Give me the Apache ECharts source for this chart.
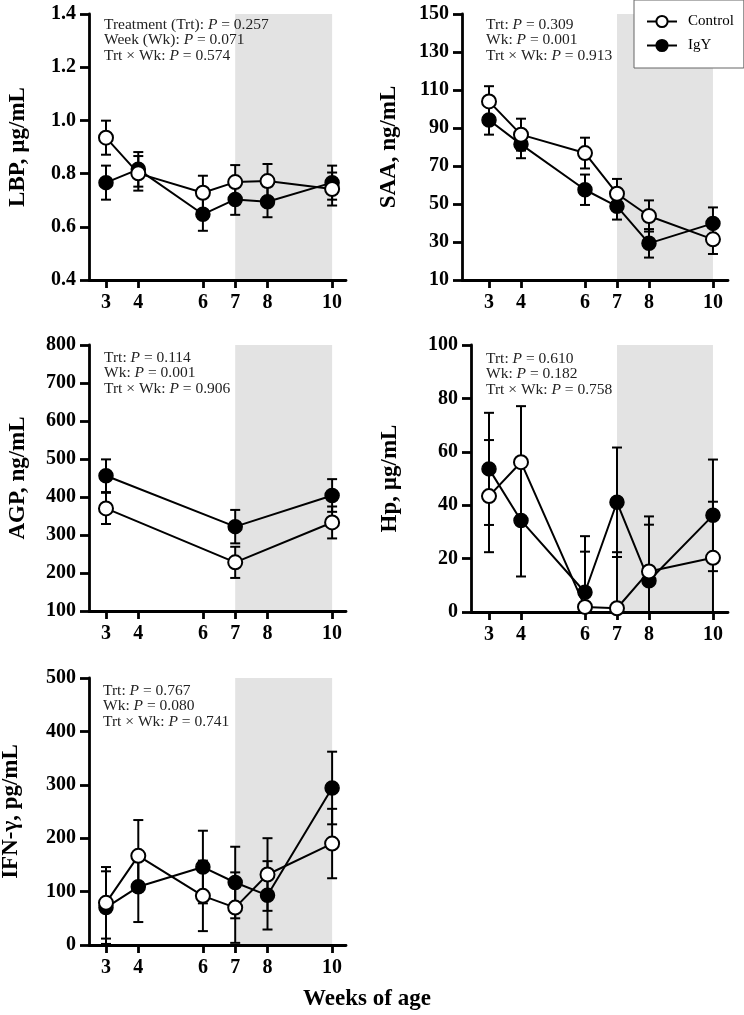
<!DOCTYPE html>
<html><head><meta charset="utf-8">
<script src="https://cdn.jsdelivr.net/npm/echarts@6/dist/echarts.min.js"></script>
<style>html,body{margin:0;padding:0;background:#fff}#c{width:744px;height:1015px}</style>
</head><body><div id="c"></div>
<script>
// ---- data ----
const weeks = [3, 4, 6, 7, 8, 10];
const agpWeeks = [3, 7, 10];
const tickWeeks = [3, 4, 6, 7, 8, 10];
const shadeFrom = 7, shadeTo = 10;

const lbpControl = [0.935, 0.801, 0.728, 0.768, 0.772, 0.742];
const lbpControlSE = [0.064, 0.065, 0.064, 0.064, 0.064, 0.062];
const lbpIgY = [0.766, 0.816, 0.647, 0.703, 0.694, 0.766];
const lbpIgYSE = [0.064, 0.065, 0.062, 0.058, 0.058, 0.064];

const saaControl = [104.0, 86.5, 76.8, 55.4, 43.7, 31.4];
const saaControlSE = [8.0, 8.4, 8.1, 7.8, 8.2, 7.7];
const saaIgY = [94.2, 81.4, 57.5, 48.8, 29.3, 39.8];
const saaIgYSE = [7.7, 7.3, 8.0, 7.0, 7.5, 8.4];

const agpControl = [370, 228, 333];
const agpControlSE = [41, 41, 42];
const agpIgY = [456, 322, 404];
const agpIgYSE = [43, 44, 43];

const hpControl = [43.4, 56.1, 1.9, 1.4, 15.2, 20.3];
const hpControlSE = [21.0, 21.0, 20.7, 21.0, 20.6, 21.0];
const hpIgY = [53.6, 34.3, 7.4, 41.1, 11.7, 36.2];
const hpIgYSE = [21.0, 21.0, 21.0, 20.5, 21.0, 20.9];

const ifnControl = [79, 167, 92, 70, 132, 190];
const ifnControlSE = [67, 67, 66, 66, 68, 65];
const ifnIgY = [70, 109, 146, 117, 93, 294];
const ifnIgYSE = [68, 66, 68, 67, 64, 68];

const panelNames = ['LBP, µg/mL', 'SAA, ng/mL', 'AGP, ng/mL', 'Hp, µg/mL', 'IFN-γ, pg/mL'];
const yMins = [0.4, 10, 100, 0, 0];
const yMaxs = [1.4, 150, 800, 100, 500];
const yIntervals = [0.2, 20, 100, 20, 100];
const annotations = [
  [['Treatment (Trt)', '0.257'], ['Week (Wk)', '0.071'], ['Trt × Wk', '0.574']],
  [['Trt', '0.309'], ['Wk', '0.001'], ['Trt × Wk', '0.913']],
  [['Trt', '0.114'], ['Wk', '0.001'], ['Trt × Wk', '0.906']],
  [['Trt', '0.610'], ['Wk', '0.182'], ['Trt × Wk', '0.758']],
  [['Trt', '0.767'], ['Wk', '0.080'], ['Trt × Wk', '0.741']]
];
const xLabel = 'Weeks of age';
const seriesNames = ['Control', 'IgY'];

// ---- layout ----
const FONT = '"Liberation Serif", "Times New Roman", serif';
const grids = [
  {left: 89, top: 14, width: 257, height: 266},
  {left: 462, top: 14, width: 266, height: 266},
  {left: 89, top: 345, width: 257, height: 266},
  {left: 471, top: 345, width: 257, height: 267},
  {left: 89, top: 678, width: 257, height: 267}
];
const xMins = [2.474, 2.156, 2.474, 2.4375, 2.474];
const xMaxs = [10.43, 10.47, 10.43, 10.47, 10.43];
const nameGaps = [59, 61, 59, 69, 66];
const annPos = [[104, 17], [486, 17], [104, 350], [486, 351], [103, 683]];

const panels = [
  {x: weeks, c: lbpControl, cse: lbpControlSE, g: lbpIgY, gse: lbpIgYSE},
  {x: weeks, c: saaControl, cse: saaControlSE, g: saaIgY, gse: saaIgYSE},
  {x: agpWeeks, c: agpControl, cse: agpControlSE, g: agpIgY, gse: agpIgYSE},
  {x: weeks, c: hpControl, cse: hpControlSE, g: hpIgY, gse: hpIgYSE},
  {x: weeks, c: ifnControl, cse: ifnControlSE, g: ifnIgY, gse: ifnIgYSE}
];

function errRender(params, api) {
  const x = api.value(0), y = api.value(1), e = api.value(2);
  const top = api.coord([x, y + e]);
  const bot = api.coord([x, y - e]);
  const hw = 5;
  const st = {stroke: '#000', lineWidth: 2};
  return {type: 'group', children: [
    {type: 'line', shape: {x1: top[0], y1: top[1], x2: bot[0], y2: bot[1]}, style: st},
    {type: 'line', shape: {x1: top[0] - hw, y1: top[1], x2: top[0] + hw, y2: top[1]}, style: st},
    {type: 'line', shape: {x1: bot[0] - hw, y1: bot[1], x2: bot[0] + hw, y2: bot[1]}, style: st}
  ]};
}

const xAxes = [], yAxes = [], series = [], titles = [];
panels.forEach((p, i) => {
  xAxes.push({
    type: 'value', gridIndex: i, min: xMins[i], max: xMaxs[i],
    splitLine: {show: false},
    axisLine: {lineStyle: {color: '#000', width: 2.8}},
    axisTick: {show: true, customValues: tickWeeks, length: 8, lineStyle: {color: '#000', width: 2.8}},
    axisLabel: {customValues: tickWeeks, color: '#000', fontFamily: FONT, fontWeight: 'bold', fontSize: 20, margin: 13}
  });
  yAxes.push({
    type: 'value', gridIndex: i, min: yMins[i], max: yMaxs[i], interval: yIntervals[i],
    name: panelNames[i], nameLocation: 'middle', nameGap: nameGaps[i],
    nameTextStyle: {color: '#000', fontFamily: FONT, fontWeight: 'bold', fontSize: 23},
    splitLine: {show: false},
    axisLine: {show: true, lineStyle: {color: '#000', width: 2.8}},
    axisTick: {show: true, length: 9, lineStyle: {color: '#000', width: 2.8}},
    axisLabel: {color: '#000', fontFamily: FONT, fontWeight: 'bold', fontSize: 20, margin: 13,
      formatter: v => i === 0 ? v.toFixed(1) : String(Math.round(v))}
  });
  const mk = (xs, ys) => xs.map((x, k) => [x, ys[k]]);
  const mkE = (xs, ys, es) => xs.map((x, k) => [x, ys[k], es[k]]);
  series.push({
    type: 'custom', name: 'errG' + i, xAxisIndex: i, yAxisIndex: i, renderItem: errRender,
    data: mkE(p.x, p.g, p.gse), z: 2, clip: true, silent: true
  });
  series.push({
    type: 'custom', name: 'errC' + i, xAxisIndex: i, yAxisIndex: i, renderItem: errRender,
    data: mkE(p.x, p.c, p.cse), z: 2, clip: true, silent: true
  });
  series.push({
    type: 'line', name: seriesNames[1], xAxisIndex: i, yAxisIndex: i, data: mk(p.x, p.g),
    symbol: 'circle', symbolSize: 14, z: 3,
    lineStyle: {color: '#000', width: 2}, itemStyle: {color: '#000', borderColor: '#000', borderWidth: 1.5},
    markArea: {silent: true, itemStyle: {color: '#e3e3e3'}, z: 0,
      data: [[{coord: [shadeFrom, yMaxs[i]]}, {coord: [shadeTo, yMins[i]]}]]},
    animation: false
  });
  series.push({
    type: 'line', name: seriesNames[0], xAxisIndex: i, yAxisIndex: i, data: mk(p.x, p.c),
    symbol: 'circle', symbolSize: 14, z: 4,
    lineStyle: {color: '#000', width: 2}, itemStyle: {color: '#fff', borderColor: '#000', borderWidth: 2},
    animation: false
  });
  const txt = annotations[i].map(a => a[0] + ': {i|P} = ' + a[1]).join('\n');
  titles.push({
    left: annPos[i][0], top: annPos[i][1], padding: 0, text: txt,
    textStyle: {fontFamily: FONT, fontSize: 15.5, fontWeight: 'normal', color: '#222', lineHeight: 15.5,
      rich: {i: {fontFamily: FONT, fontSize: 15.5, fontStyle: 'italic', color: '#222', lineHeight: 15.5}}}
  });
});
titles.push({
  left: 367, top: 988, textAlign: 'center', padding: 0, text: xLabel,
  textStyle: {fontFamily: FONT, fontSize: 23, fontWeight: 'bold', color: '#000'}
});

const chart = echarts.init(document.getElementById('c'), null, {renderer: 'canvas'});
chart.setOption({
  animation: false,
  backgroundColor: '#fff',
  title: titles,
  grid: grids.map(g => Object.assign({containLabel: false, outerBoundsMode: 'none'}, g)),
  xAxis: xAxes, yAxis: yAxes,
  legend: {
    data: seriesNames, orient: 'vertical', left: 634, top: 0,
    padding: [14, 10, 15, 12], itemGap: 9, itemWidth: 30, itemHeight: 14,
    borderColor: '#666', borderWidth: 1, backgroundColor: '#fff',
    textStyle: {fontFamily: FONT, fontSize: 15, color: '#000', padding: [0, 0, 0, 6]}
  },
  series: series
});
</script></body></html>
